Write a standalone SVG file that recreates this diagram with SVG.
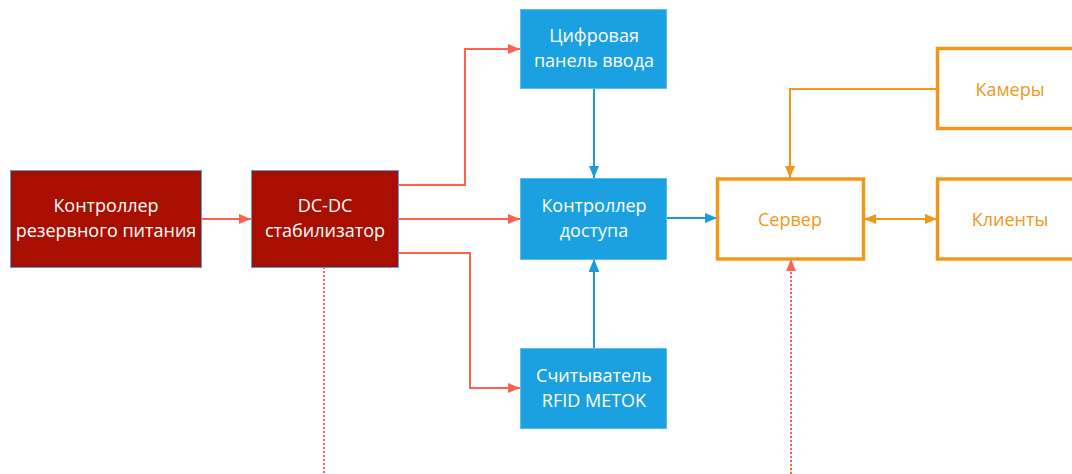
<svg xmlns="http://www.w3.org/2000/svg" width="1072" height="474" viewBox="0 0 1072 474">
<style>
.t{font-family:"Open Sans","Noto Sans","DejaVu Sans",sans-serif;font-size:18px;text-anchor:middle}
.w{fill:#ffffff}
.o{fill:#F0981A}
.red{fill:#A80F00;stroke:#4FA3D9;stroke-width:1}
.blue{fill:#1BA1E2;stroke:#5BBDEB;stroke-width:1}
.org{fill:#ffffff;stroke:#F0981A;stroke-width:3.5}
.lr{fill:none;stroke:#FF6150;stroke-width:2}
.lb{fill:none;stroke:#1B9BDD;stroke-width:2}
.lo{fill:none;stroke:#F0981A;stroke-width:2}
</style>
<defs>
<marker id="ar" viewBox="0 0 12 10" refX="12" refY="5" markerWidth="12" markerHeight="10" markerUnits="userSpaceOnUse" orient="auto"><path d="M0,0 L12,5 L0,10 z" fill="#FF6150"/></marker>
<marker id="ab" viewBox="0 0 12 10" refX="12" refY="5" markerWidth="12" markerHeight="10" markerUnits="userSpaceOnUse" orient="auto"><path d="M0,0 L12,5 L0,10 z" fill="#1B9BDD"/></marker>
<marker id="ab2" viewBox="0 0 12 10" refX="12" refY="5" markerWidth="13" markerHeight="11" markerUnits="userSpaceOnUse" orient="auto"><path d="M0,0 L12,5 L0,10 z" fill="#1B9BDD"/></marker>
<marker id="ao" viewBox="0 0 12 10" refX="12" refY="5" markerWidth="12" markerHeight="10" markerUnits="userSpaceOnUse" orient="auto"><path d="M0,0 L12,5 L0,10 z" fill="#F0981A"/></marker>
<marker id="aos" viewBox="0 0 12 10" refX="0" refY="5" markerWidth="12" markerHeight="10" markerUnits="userSpaceOnUse" orient="auto"><path d="M12,0 L0,5 L12,10 z" fill="#F0981A"/></marker>
</defs>
<g id="connectors">
<path class="lr" d="M201,219 H251" marker-end="url(#ar)"/>
<path class="lr" d="M398,185 H465 V49 H520" marker-end="url(#ar)"/>
<path class="lr" d="M398,219 H520" marker-end="url(#ar)"/>
<path class="lr" d="M398,253 H470 V388 H520" marker-end="url(#ar)"/>
<path class="lb" d="M594,88 V178" marker-end="url(#ab)"/>
<path class="lb" d="M594,348 V259" stroke-width="3" marker-end="url(#ab2)"/>
<path class="lb" d="M667,218 H717" marker-end="url(#ab)"/>
<path class="lo" d="M937,89 H790 V178" marker-end="url(#ao)"/>
<path class="lo" d="M864,219 H937" stroke-width="3" marker-start="url(#aos)" marker-end="url(#ao)"/>
<path class="lr" d="M324,267 V474" stroke-dasharray="2,2"/>
<path class="lr" d="M791,474 V259" stroke-dasharray="2,2" marker-end="url(#ar)"/>
</g>
<g id="n-backup">
<rect class="red" x="10.5" y="170.5" width="191" height="97"/>
<text class="t w" x="106" y="212">Контроллер</text>
<text class="t w" x="106" y="237">резервного питания</text>
</g>
<g id="n-dcdc">
<rect class="red" x="251.5" y="170.5" width="147" height="97"/>
<text class="t w" x="325" y="212">DC-DC</text>
<text class="t w" x="325" y="237">стабилизатор</text>
</g>
<g id="n-keypad">
<rect class="blue" x="520.5" y="9.5" width="146" height="79"/>
<text class="t w" x="594" y="42">Цифровая</text>
<text class="t w" x="594" y="67">панель ввода</text>
</g>
<g id="n-access">
<rect class="blue" x="520.5" y="178.5" width="146" height="81"/>
<text class="t w" x="594" y="212">Контроллер</text>
<text class="t w" x="594" y="237">доступа</text>
</g>
<g id="n-rfid">
<rect class="blue" x="520.5" y="348.5" width="146" height="80"/>
<text class="t w" x="594" y="382">Считыватель</text>
<text class="t w" x="594" y="407">RFID METOK</text>
</g>
<g id="n-server">
<rect class="org" x="717.5" y="179" width="146" height="80"/>
<text class="t o" x="790" y="226">Сервер</text>
</g>
<g id="n-cameras">
<rect class="org" x="937.5" y="48.5" width="150" height="80"/>
<text class="t o" x="1010" y="96">Камеры</text>
</g>
<g id="n-clients">
<rect class="org" x="937.5" y="179" width="150" height="80"/>
<text class="t o" x="1010" y="226">Клиенты</text>
</g>
</svg>
